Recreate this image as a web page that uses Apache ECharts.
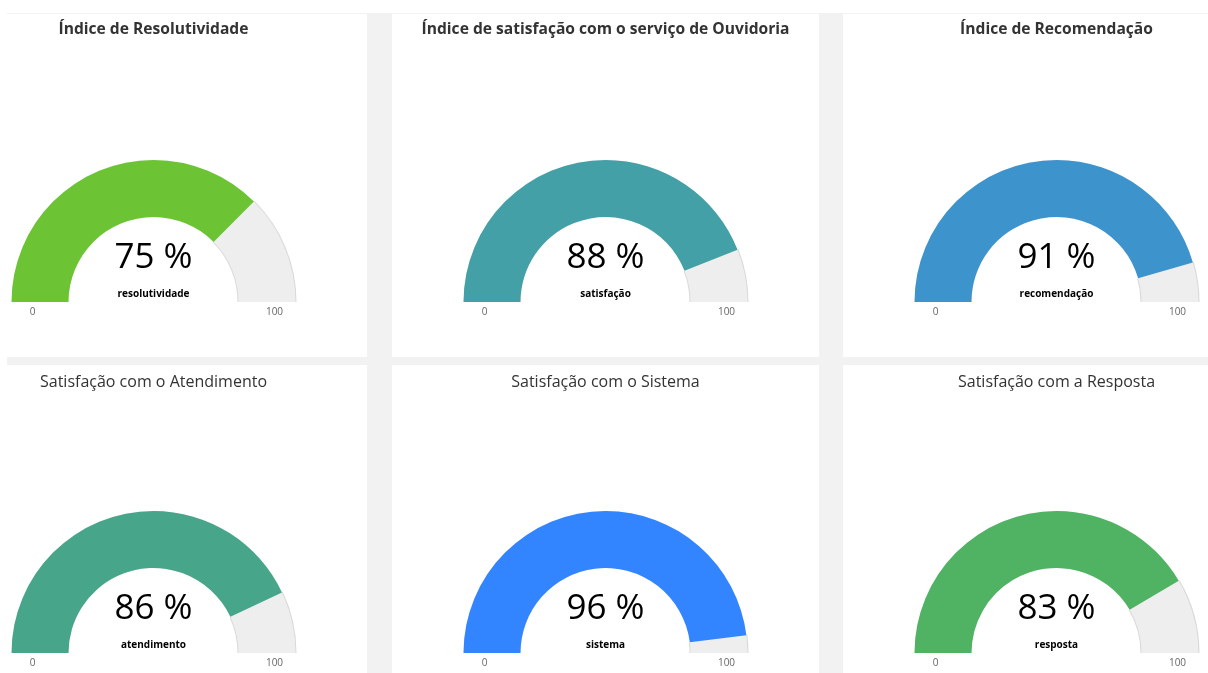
<!DOCTYPE html>
<html>
<head>
<meta charset="utf-8">
<script src="https://cdn.jsdelivr.net/npm/echarts@6/dist/echarts.min.js"></script>
<style>
html,body{margin:0;padding:0;background:#fff;}
#c{width:1208px;height:673px;}
</style>
</head>
<body>
<div id="c"></div>
<script>
const titles = [
  'Índice de Resolutividade',
  'Índice de satisfação com o serviço de Ouvidoria',
  'Índice de Recomendação',
  'Satisfação com o Atendimento',
  'Satisfação com o Sistema',
  'Satisfação com a Resposta'
];
const names = ['resolutividade','satisfação','recomendação','atendimento','sistema','resposta'];
const values = [75, 88, 91, 86, 96, 83];
const colors = ['#6CC435','#43A0A6','#3D94CC','#47A68A','#3385FF','#50B263'];
const tickLabels = ['0','100'];
const axisMin = 0, axisMax = 100;

// layout
const centersX = [153.5, 605.5, 1056.5];
const centersY = [302, 653];
const titleY = [30, 382];
const R = 142, W = 57;
const panelCols = [[7,367],[392,819],[843,1208]];
const panelRows = [[14,357],[365,673]];

const graphic = [];
graphic.push({type:'rect', z:-10, shape:{x:7,y:13,width:1201,height:660}, style:{fill:'#f2f2f2'}});
panelRows.forEach(r=>panelCols.forEach(c=>{
  graphic.push({type:'rect', z:-9, shape:{x:c[0],y:r[0],width:c[1]-c[0],height:r[1]-r[0]}, style:{fill:'#ffffff'}});
}));

const title = [];
const series = [];
for (let i=0;i<6;i++){
  const cx = centersX[i%3], cy = centersY[Math.floor(i/3)];
  const bold = i<3;
  title.push({
    text: titles[i], left: cx, top: titleY[Math.floor(i/3)], textAlign:'center', textVerticalAlign:'middle',
    padding:0,
    textStyle:{fontFamily:'Open Sans', fontSize: bold?15.6:16, fontWeight: bold?'bold':'normal', color:'#333333'}
  });
  graphic.push({type:'text', z:10, x: cx-121, y: cy+10, style:{text:tickLabels[0], fill:'#666666', font:'10px "Open Sans"', align:'center', verticalAlign:'middle'}});
  graphic.push({type:'text', z:10, x: cx+121, y: cy+10, style:{text:tickLabels[1], fill:'#666666', font:'10px "Open Sans"', align:'center', verticalAlign:'middle'}});
  const frac = (values[i]-axisMin)/(axisMax-axisMin);
  // border of the unfilled background part
  series.push({
    type:'gauge', center:[cx,cy], radius:R+1, startAngle:180, endAngle:0, min:axisMin, max:axisMax,
    silent:true, z:1,
    axisLine:{lineStyle:{width:W+2, color:[[frac,'rgba(0,0,0,0)'],[1,'#d9d9d9']]}},
    progress:{show:false}, pointer:{show:false}, anchor:{show:false},
    axisTick:{show:false}, splitLine:{show:false}, axisLabel:{show:false},
    title:{show:false}, detail:{show:false}, data:[{value:0}]
  });
  series.push({
    type:'gauge', center:[cx,cy], radius:R, startAngle:180, endAngle:0, min:axisMin, max:axisMax,
    z:2,
    axisLine:{lineStyle:{width:W, color:[[1,'#EEEEEE']]}},
    progress:{show:true, width:W, itemStyle:{color:colors[i]}},
    pointer:{show:false}, anchor:{show:false},
    axisTick:{show:false}, splitLine:{show:false}, axisLabel:{show:false},
    title:{offsetCenter:[0,-8], fontSize:10, fontWeight:'bold', color:'#000', fontFamily:'Open Sans'},
    detail:{offsetCenter:[0,-44], formatter:'{value} %', fontSize:35, fontWeight:'normal', color:'#000', fontFamily:'Open Sans'},
    data:[{value:values[i], name:names[i]}]
  });
}

const chart = echarts.init(document.getElementById('c'));
chart.setOption({
  animation:false,
  backgroundColor:'#ffffff',
  title: title,
  graphic: graphic,
  series: series
});
</script>
</body>
</html>
